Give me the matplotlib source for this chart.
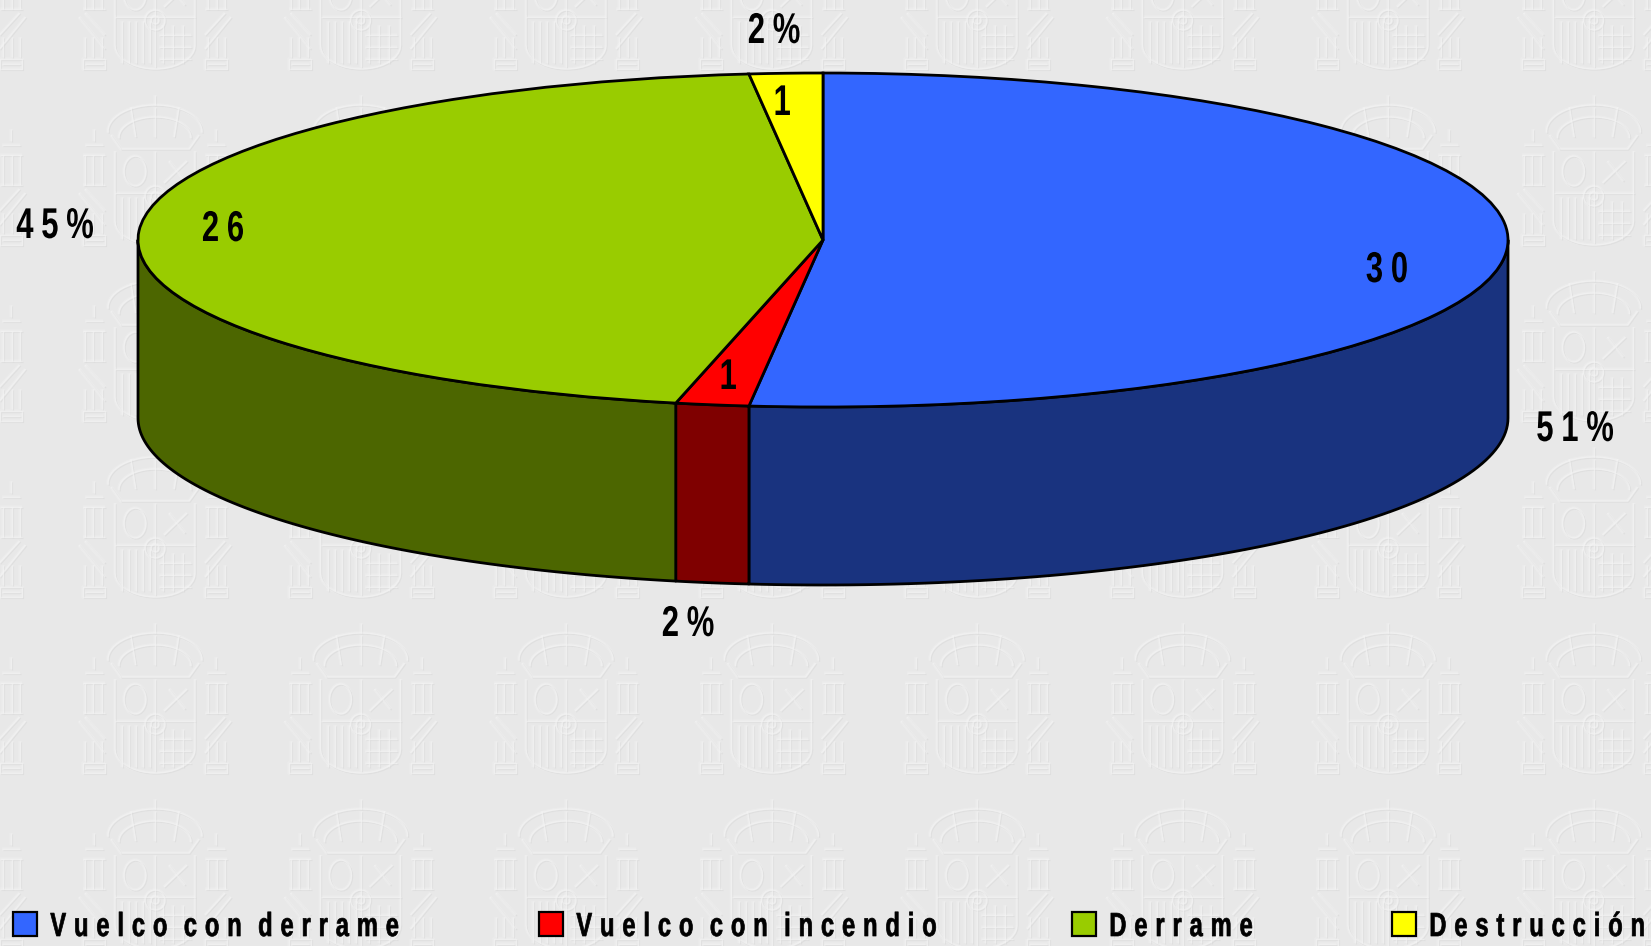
import numpy as np
import matplotlib
matplotlib.use("Agg")
import matplotlib.pyplot as plt
import matplotlib.patheffects as pe
from matplotlib.collections import LineCollection
from matplotlib.patches import Patch, Polygon
from matplotlib.transforms import Affine2D, Bbox

# ---- data ----
categories = ["Vuelco con derrame", "Vuelco con incendio", "Derrame", "Destrucción"]
counts = [30, 1, 26, 1]
percents = ["51%", "2%", "45%", "2%"]
top_colors = ["#3366FF", "#FF0000", "#99CC00", "#FFFF00"]
wall_colors = ["#19337F", "#7F0000", "#4C6600", "#7F7F00"]

# ---- layout (pixels) ----
W, H = 1651, 946
CX, CY, RX, RY, DEPTH = 823, 240, 685, 167, 178
count_xy = [(1387, 271), (728, 378), (223, 230), (782, 104)]
pct_xy = [(1575, 430), (688, 625), (55, 227), (774, 32)]
legend_x = [13, 539, 1072, 1392]
BG = "#E8E8E8"
FONT = ["Liberation Sans"]
GAP_LABEL = "\u2005"   # letter spacing of the value labels
GAP_LEGEND = "\u2004"  # letter spacing of the legend
SX = 0.72              # horizontal squeeze giving the narrow bold look
SX_LEG = 0.71


class Squeeze(pe.AbstractPathEffect):
    """Narrow the glyph outlines of a Text horizontally, around its centre or left edge."""

    def __init__(self, sx, centre=True, bolder=0.0):
        super().__init__()
        self.sx, self.centre, self.bolder = sx, centre, bolder

    def draw_path(self, renderer, gc, tpath, affine, rgbFace=None):
        e = tpath.get_extents()
        xc = 0.5 * (e.x0 + e.x1) if self.centre else 0
        t = Affine2D().translate(-xc, 0).scale(self.sx, 1).translate(xc, 0)
        if self.bolder:
            gc0 = renderer.new_gc()
            gc0.copy_properties(gc)
            gc0.set_linewidth(self.bolder)
            gc0.set_foreground("black")
            renderer.draw_path(gc0, tpath, t + affine, rgbFace)
            gc0.restore()
        else:
            renderer.draw_path(gc, tpath, t + affine, rgbFace)


def spaced(s, gap):
    return gap.join(s)


def spaced_legend(s):
    words = [GAP_LEGEND.join(w) for w in s.split(" ")]
    return (GAP_LEGEND + " \u200a").join(words)


def narrow_extent(text, sx, centre):
    """Report the squeezed box of a text as its window extent."""
    orig = text.get_window_extent

    def extent(renderer=None, dpi=None):
        b = orig(renderer, dpi)
        w = b.width * sx
        x0 = b.x0 + (b.width - w) / 2 if centre else b.x0
        return Bbox.from_extents(x0, b.y0, x0 + w, b.y1)

    text.get_window_extent = extent


def narrow_layout(text, sx):
    """Make a left-aligned text lay itself out with its squeezed width."""
    orig = text._get_layout

    def layout(renderer):
        b, info, descent = orig(renderer)
        return Bbox.from_extents(b.x0, b.y0, b.x0 + b.width * sx, b.y1), info, descent

    text._get_layout = layout


fig = plt.figure(figsize=(W / 100, H / 100), dpi=100, facecolor=BG)

# ---- embossed background crest ----
bg = fig.add_axes([0, 0, 1, 1], zorder=0)
bg.set_xlim(0, W)
bg.set_ylim(H, 0)
bg.axis("off")


def crest_lines():
    L = []
    t = np.linspace(np.pi * 1.02, -0.02 * np.pi, 30)
    # crown
    L.append(np.c_[47 * np.cos(t), 38 - 26 * np.sin(t)])
    L.append(np.c_[36 * np.cos(t), 44 - 20 * np.sin(t)])
    for k in (-24, 0, 24):
        L.append(np.array([[k, 14], [k * 0.8, 44]]))
    L.append(np.array([[0, 2], [0, 12]]))
    L.append(np.array([[-44, 42], [-34, 56], [34, 56], [44, 42]]))
    # shield
    t2 = np.linspace(np.pi, 2 * np.pi, 20)
    L.append(np.r_[[[-40, 58]], np.c_[40 * np.cos(t2), 128 - 24 * np.sin(t2)], [[40, 58]]])
    L.append(np.array([[0, 58], [0, 150]]))
    L.append(np.array([[-40, 100], [40, 100]]))
    for k in (-33, -26, -19, -12, -5):
        L.append(np.array([[k, 104], [k, 146]]))
    for k in (8, 18, 28):
        L.append(np.array([[k, 108], [k, 146]]))
    for y in (118, 130, 142):
        L.append(np.array([[4, y], [36, y]]))
    # upper quarter ornaments
    t3 = np.linspace(0, 2 * np.pi, 24)
    L.append(np.c_[-20 + 11 * np.cos(t3), 78 + 15 * np.sin(t3)])
    L.append(np.array([[9, 90], [32, 68]]))
    L.append(np.array([[14, 68], [30, 88]]))
    # centre medallion
    L.append(np.c_[10 * np.cos(t3), 103 + 10 * np.sin(t3)])
    L.append(np.c_[4 * np.cos(t3), 103 + 4 * np.sin(t3)])
    # pillars
    for s in (-1, 1):
        for x in (53, 62, 70):
            L.append(np.array([[s * x, 62], [s * x, 92]]))
        L.append(np.array([[s * 52, 52], [s * 70, 52]]))
        L.append(np.array([[s * 61, 48], [s * 61, 36]]))
        L.append(np.array([[s * 50, 62], [s * 72, 62]]))
        L.append(np.array([[s * 50, 92], [s * 72, 92]]))
        L.append(np.array([[s * 50, 132], [s * 76, 100]]))
        L.append(np.array([[s * 50, 118], [s * 70, 96]]))
        for x in (53, 62, 70):
            L.append(np.array([[s * x, 120], [s * x, 140]]))
        L.append(np.array([[s * 50, 142], [s * 72, 142], [s * 72, 152], [s * 50, 152], [s * 50, 142]]))
        L.append(np.array([[s * 52, 147], [s * 70, 147]]))
    return L


base = crest_lines()
light, dark = [], []
for col in range(-1, 9):
    for row in range(-1, 6):
        ox, oy = 155 + 205.5 * col, 445 + 176 * (row - 2)
        for seg in base:
            light.append(seg + [ox, oy])
            dark.append(seg + [ox + 1.2, oy + 1.2])
bg.add_collection(LineCollection(light, colors="#FFFFFF", linewidths=2.6, alpha=0.16))
bg.add_collection(LineCollection(dark, colors="#D8D8D8", linewidths=0.8, alpha=0.6))
bg.add_collection(LineCollection(light, colors="#F4F4F4", linewidths=1.0, alpha=0.6))

# ---- pie (unit circle mapped to the ellipse) ----
ax = fig.add_axes([0, 0, 1, 1], zorder=1)
ax.patch.set_alpha(0)
wedges, _ = ax.pie(counts, colors=top_colors, startangle=90, counterclock=False, radius=1,
                   wedgeprops=dict(edgecolor="black", linewidth=2.0, zorder=5))
ax.set_aspect("auto")
ax.set_xlim((0 - CX) / RX, (W - CX) / RX)
ax.set_ylim((CY - H) / RY, (CY - 0) / RY)
ax.axis("off")


def to_data(px, py):
    return (px - CX) / RX, (CY - py) / RY


d = DEPTH / RY
fr = np.cumsum([0] + counts) / sum(counts)
for i, col in enumerate(wall_colors):
    a0 = 90 - 360 * fr[i]
    a1 = 90 - 360 * fr[i + 1]
    # visible front part of the wall lies between 0 and -180 degrees
    hi, lo = min(a0, 0), max(a1, -180)
    if hi <= lo:
        continue
    t = np.radians(np.linspace(hi, lo, 80))
    x, y = np.cos(t), np.sin(t)
    pts = np.r_[np.c_[x, y], np.c_[x, y - d][::-1]]
    ax.add_patch(Polygon(pts, closed=True, facecolor=col, edgecolor="black",
                         linewidth=2.0, joinstyle="round", zorder=3))

# ---- labels ----
for xy, s in list(zip(count_xy, map(str, counts))) + list(zip(pct_xy, percents)):
    txt = ax.text(*to_data(*xy), spaced(s, GAP_LABEL), ha="center", va="center", family=FONT,
                  fontweight="bold", fontsize=31, color="black", zorder=8,
                  path_effects=[Squeeze(SX)])
    narrow_extent(txt, SX, True)

# ---- legend: one entry per anchor, as the columns are unevenly placed ----
for c, label, x in zip(top_colors, categories, legend_x):
    leg = fig.legend([Patch(facecolor=c, edgecolor="black", linewidth=1.6)],
                     [spaced_legend(label)], loc="lower left",
                     bbox_to_anchor=(x / W, 3 / H), frameon=False, borderpad=0, borderaxespad=0,
                     prop=dict(family=FONT, weight="bold", size=24),
                     handlelength=0.72, handleheight=0.72, handletextpad=0.4)
    leg.set_zorder(10)
    for t in leg.get_texts():
        t.set_path_effects([Squeeze(SX_LEG, centre=False, bolder=0.5)])
        narrow_layout(t, SX_LEG)

fig.savefig("out.png", dpi=100, facecolor=BG)
